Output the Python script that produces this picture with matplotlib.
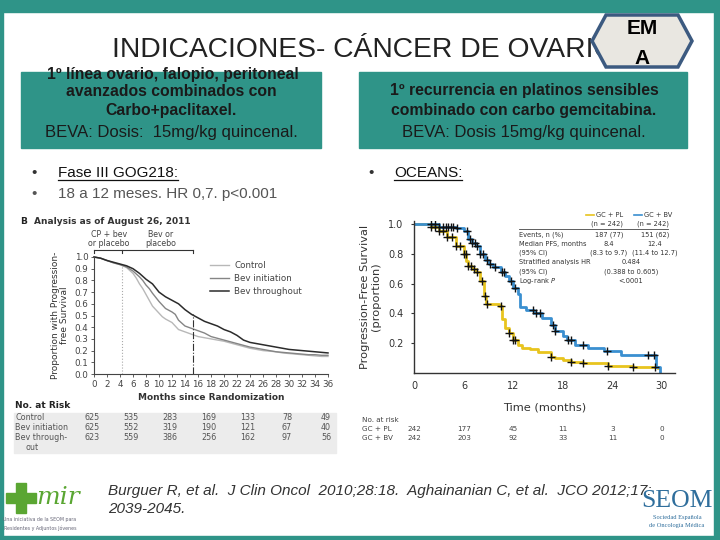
import numpy as np
import matplotlib
matplotlib.use("Agg")
import matplotlib.pyplot as plt
from matplotlib.patches import Rectangle, Polygon

# ---------------- DATA ----------------
# GOG218 (left panel)
gog_t = [0, 1, 2, 3, 4, 5, 6, 6.5, 7, 7.5, 8, 8.5, 9, 9.5, 10, 10.5, 11, 11.5, 12, 12.5, 13,
         13.5, 14, 15, 16, 17, 18, 19, 20, 21, 22, 23, 24, 25, 26, 27, 28, 29, 30, 31, 32, 33, 34, 35, 36]
gog_control = [1.0, 0.99, 0.97, 0.95, 0.935, 0.91, 0.86, 0.82, 0.77, 0.73, 0.68, 0.63, 0.58, 0.55,
               0.52, 0.49, 0.47, 0.455, 0.44, 0.41, 0.38, 0.37, 0.36, 0.34, 0.32, 0.31, 0.30, 0.29,
               0.28, 0.265, 0.25, 0.235, 0.22, 0.21, 0.20, 0.195, 0.19, 0.18, 0.175, 0.17, 0.165,
               0.16, 0.155, 0.15, 0.15]
gog_init = [1.0, 0.99, 0.97, 0.95, 0.935, 0.915, 0.88, 0.855, 0.83, 0.80, 0.76, 0.73, 0.69, 0.655,
            0.62, 0.59, 0.56, 0.545, 0.53, 0.51, 0.46, 0.435, 0.41, 0.39, 0.37, 0.35, 0.32, 0.305,
            0.29, 0.275, 0.26, 0.245, 0.23, 0.22, 0.21, 0.20, 0.19, 0.185, 0.18, 0.175, 0.17,
            0.165, 0.165, 0.16, 0.16]
gog_through = [1.0, 0.99, 0.97, 0.955, 0.94, 0.925, 0.90, 0.88, 0.86, 0.835, 0.81, 0.79, 0.77, 0.735,
               0.70, 0.68, 0.66, 0.645, 0.63, 0.615, 0.60, 0.575, 0.55, 0.51, 0.48, 0.45, 0.43, 0.41,
               0.38, 0.36, 0.33, 0.29, 0.27, 0.26, 0.25, 0.24, 0.23, 0.22, 0.21, 0.205, 0.20, 0.195,
               0.19, 0.185, 0.18]
gog_ticks = list(range(0, 37, 2))
gog_risk_months = [0, 6, 12, 18, 24, 30, 36]
gog_risk_control = [625, 535, 283, 169, 133, 78, 49]
gog_risk_init = [625, 552, 319, 190, 121, 67, 40]
gog_risk_through = [623, 559, 386, 256, 162, 97, 56]

# OCEANS (right panel)
pl_t = [0, 2, 3, 4, 5, 6, 6.3, 6.5, 7, 7.5, 8, 8.4, 8.7, 10.3, 10.6, 11, 11.5, 12, 12.5, 13, 14,
        15, 16.5, 17, 18, 19, 20.5, 23.5, 26.5, 29.5]
pl_s = [1.0, 0.98, 0.95, 0.91, 0.85, 0.80, 0.75, 0.715, 0.70, 0.68, 0.62, 0.52, 0.46, 0.45, 0.36,
        0.30, 0.27, 0.22, 0.19, 0.17, 0.16, 0.14, 0.11, 0.10, 0.09, 0.075, 0.065, 0.05, 0.04, 0.035]
bv_t = [0, 3, 5, 6, 6.5, 7, 7.5, 8, 8.5, 9, 9.5, 10.5, 11, 11.5, 12, 12.5, 12.8, 13.5, 14.5, 15.5,
        16.5, 17, 18, 18.5, 19.5, 21, 23, 25, 29.3, 29.8]
bv_s = [1.0, 0.98, 0.97, 0.95, 0.90, 0.87, 0.85, 0.80, 0.76, 0.73, 0.71, 0.68, 0.65, 0.62, 0.57,
        0.53, 0.44, 0.42, 0.40, 0.37, 0.32, 0.28, 0.25, 0.22, 0.19, 0.17, 0.15, 0.12, 0.04, 0.0]
pl_cens = [2, 2.5, 3, 3.5, 4, 4.5, 5, 5.5, 6, 6.2, 6.5, 6.8, 7.2, 7.6, 8.2, 8.5, 8.8, 10.5, 11.5,
           12, 12.2, 16.5, 19, 20.5, 23.5, 26.5, 29.2]
bv_cens = [2, 2.5, 3, 3.5, 3.8, 4.1, 4.4, 4.7, 5.2, 6.4, 6.7, 7.0, 7.3, 7.6, 8.0, 8.3, 8.8, 9.2,
           9.8, 10.6, 10.9, 11.7, 12.2, 14.4, 14.7, 15.2, 16.8, 17.1, 18.6, 19.0, 20.5, 23.4,
           28.3, 29.1]
oc_ticks = [0, 6, 12, 18, 24, 30]
oc_risk_pl = [242, 177, 45, 11, 3, 0]
oc_risk_bv = [242, 203, 92, 33, 11, 0]

TEAL = "#2f9488"
W, H = 720, 540

fig = plt.figure(figsize=(7.2, 5.4), dpi=100)
bg = fig.add_axes([0, 0, 1, 1])
bg.set_xlim(0, W)
bg.set_ylim(H, 0)
bg.axis("off")

SANS = ["Liberation Sans", "DejaVu Sans"]

# frame
bg.add_patch(Rectangle((0, 0), W, 12, color=TEAL, zorder=1))
bg.add_patch(Rectangle((0, 0), 3, H, color=TEAL, zorder=1))
bg.add_patch(Rectangle((714, 0), 6, H, color=TEAL, zorder=1))
bg.add_patch(Rectangle((0, 536), W, 4, color=TEAL, zorder=1))

# title
bg.text(112, 50, "INDICACIONES- CÁNCER DE OVARIO", fontsize=20.3, family=SANS,
        color="#222222", va="center", ha="left", zorder=2)
# hexagon
hexpts = [(592, 41), (606, 15), (678, 15), (692, 41), (678, 67), (606, 67)]
bg.add_patch(Polygon(hexpts, closed=True, fc="#e9e7e1", ec="#3c5a80", lw=2.5, zorder=3))
bg.text(642, 29, "EM", fontsize=15, fontweight="bold", family=SANS, ha="center", va="center", zorder=4)
bg.text(642, 58, "A", fontsize=15, fontweight="bold", family=SANS, ha="center", va="center", zorder=4)

# teal boxes
bg.add_patch(Rectangle((21, 72), 300, 76, color=TEAL, zorder=1))
bg.add_patch(Rectangle((359, 72), 328, 76, color=TEAL, zorder=1))
bx = dict(family=SANS, ha="center", va="center", color="#1a1a1a", zorder=5)
bg.text(173, 74, "1º línea ovario, falopio, peritoneal", fontweight="bold", fontsize=11.3, **bx)
bg.text(171, 92, "avanzados combinados con", fontweight="bold", fontsize=11.3, **bx)
bg.text(171, 111, "Carbo+paclitaxel.", fontweight="bold", fontsize=11.3, **bx)
bg.text(171, 133, "BEVA: Dosis:  15mg/kg quincenal.", fontsize=12.0, **bx)
bg.text(524, 91, "1º recurrencia en platinos sensibles", fontweight="bold", fontsize=11.3, **bx)
bg.text(524, 111, "combinado con carbo gemcitabina.", fontweight="bold", fontsize=11.3, **bx)
bg.text(524, 133, "BEVA: Dosis 15mg/kg quincenal.", fontsize=12.0, **bx)

# bullets
bt = dict(family=SANS, fontsize=11, va="center", ha="left", zorder=5)
bg.text(31, 173, "•", color="#333333", **bt)
t1 = bg.text(58, 173, "Fase III GOG218:", color="#111111", **bt)
bg.text(31, 194, "•", color="#555555", **bt)
bg.text(58, 194, "18 a 12 meses. HR 0,7. p<0.001", color="#555555", **bt)
bg.text(368, 173, "•", color="#333333", **bt)
t2 = bg.text(394, 173, "OCEANS:", color="#111111", **bt)

# footer
ft = dict(family=SANS, fontsize=11, style="italic", color="#333333", va="center", ha="left")
bg.text(108, 491, "Burguer R, et al.  J Clin Oncol  2010;28:18.  Aghainanian C, et al.  JCO 2012;17:", **ft)
bg.text(108, 509, "2039-2045.", **ft)

# +mir logo
GREEN = "#5aa632"
bg.add_patch(Rectangle((6, 493), 30, 10, color=GREEN, zorder=2))
bg.add_patch(Rectangle((16, 483), 10, 30, color=GREEN, zorder=2))
bg.text(36, 498, "mir", fontsize=18, family=["DejaVu Serif"], style="italic", color=GREEN,
        va="center", ha="left")
bg.text(40, 520, "Una iniciativa de la SEOM para", fontsize=3.4, color="#667", ha="center", va="center")
bg.text(40, 528, "Residentes y Adjuntos Jóvenes", fontsize=3.4, color="#667", ha="center", va="center")

# SEOM logo
BLUE = "#2f6e9c"
SERIF = ["Liberation Serif", "DejaVu Serif"]
bg.text(677, 501, "SEOM", fontsize=18.5, family=SERIF, color=BLUE, ha="center", va="center")
bg.text(677, 518, "Sociedad Española", fontsize=4.6, color=BLUE, ha="center", va="center", family=SERIF)
bg.text(677, 526, "de Oncología Médica", fontsize=4.6, color=BLUE, ha="center", va="center", family=SERIF)

# ---------------- Left KM (GOG218) ----------------
def fig_axes(x0, x1, ytop, ybot):
    return fig.add_axes([x0 / W, 1 - ybot / H, (x1 - x0) / W, (ybot - ytop) / H])

axL = fig_axes(94, 328, 257, 374)
axL.set_facecolor("none")
axL.plot(gog_t, gog_control, color="#b8b8b8", lw=1.0, clip_on=False, label="Control")
axL.plot(gog_t, gog_init, color="#858585", lw=1.0, clip_on=False, label="Bev initiation")
axL.plot(gog_t, gog_through, color="#2b2b2b", lw=1.1, clip_on=False, label="Bev throughout")
axL.set_xlim(0, 36)
axL.set_ylim(0, 1.0)
axL.set_xticks(gog_ticks)
axL.set_yticks(np.round(np.arange(0, 1.01, 0.1), 1))
axL.set_yticklabels([f"{v:.1f}" for v in np.arange(0, 1.01, 0.1)])
for s in ["top", "right"]:
    axL.spines[s].set_visible(False)
for s in ["left", "bottom"]:
    axL.spines[s].set_color("#444444")
    axL.spines[s].set_linewidth(0.8)
axL.tick_params(labelsize=6.3, length=2.5, width=0.6, colors="#444444", pad=1.5)
axL.axvline(4.3, ymax=0.93, color="#aaaaaa", lw=0.8, ls=":")
axL.axvline(15.2, ymax=0.51, color="#333333", lw=0.8, ls="-.")
axL.plot([0, 15.2], [1.06, 1.06], color="#333333", lw=0.8, clip_on=False)
for xv in [0, 4.3, 15.2]:
    axL.plot([xv, xv], [1.03, 1.06], color="#333333", lw=0.8, clip_on=False)
axL.text(2.3, 1.08, "CP + bev\nor placebo", fontsize=5.7, ha="center", va="bottom",
         color="#444444", linespacing=1.0)
axL.text(10.3, 1.08, "Bev or\nplacebo", fontsize=5.7, ha="center", va="bottom",
         color="#444444", linespacing=1.0)
axL.legend(loc="upper left", bbox_to_anchor=(0.46, 1.035), frameon=False,
           fontsize=6.3, handlelength=2.2, handletextpad=0.6, labelspacing=0.45, labelcolor="#444444")
axL.set_xlabel("Months since Randomization", fontsize=6.5, fontweight="bold", color="#333333",
               labelpad=3)
axL.set_ylabel("Proportion with Progression-\nfree Survival", fontsize=6.5, color="#333333",
               labelpad=4, linespacing=1.0)

bg.text(20, 222, "B", fontsize=6.5, fontweight="bold", color="#222222", va="center")
bg.text(34, 222, "Analysis as of August 26, 2011", fontsize=6.5, fontweight="bold",
        color="#333333", va="center")

# risk table left
bg.add_patch(Rectangle((14, 413), 322, 40, color="#ececec", zorder=0.5))
bg.text(15, 406, "No. at Risk", fontsize=6.5, fontweight="bold", color="#222222", va="center")
def mx(m):
    return 94 + m * (328 - 94) / 36
rows = [("Control", gog_risk_control, 418), ("Bev initiation", gog_risk_init, 428),
        ("Bev through-", gog_risk_through, 438)]
for lab, vals, yy in rows:
    bg.text(15, yy, lab, fontsize=5.8, color="#555555", va="center")
    for m, v in zip(gog_risk_months, vals):
        bg.text(mx(m) - 2, yy, str(v), fontsize=5.8, color="#555555", va="center", ha="center")
bg.text(25, 447, "out", fontsize=5.8, color="#555555", va="center")

# ---------------- Right KM (OCEANS) ----------------
axR = fig_axes(414.5, 675, 221, 373)
axR.set_facecolor("none")
YEL = "#e8c41e"
BLU = "#3a8fd0"
axR.step(pl_t, pl_s, where="post", color=YEL, lw=2.0, zorder=2)
axR.step(bv_t, bv_s, where="post", color=BLU, lw=2.0, zorder=2)

def step_val(t, s, x):
    idx = np.searchsorted(np.asarray(t), x, side="right") - 1
    return np.asarray(s)[idx]

axR.plot(pl_cens, [step_val(pl_t, pl_s, c) for c in pl_cens], "+", color="#111111", ms=6, mew=1.0,
         zorder=3)
axR.plot(bv_cens, [step_val(bv_t, bv_s, c) for c in bv_cens], "+", color="#111111", ms=6, mew=1.0,
         zorder=3)
axR.set_xlim(0, 31.6)
axR.set_ylim(0, 1.02)
axR.set_xticks(oc_ticks)
axR.set_yticks([0.2, 0.4, 0.6, 0.8, 1.0])
axR.set_yticklabels(["0.2", "0.4", "0.6", "0.8", "1.0"])
for s in ["top", "right"]:
    axR.spines[s].set_visible(False)
for s in ["left", "bottom"]:
    axR.spines[s].set_color("#333333")
    axR.spines[s].set_linewidth(1.0)
axR.tick_params(axis="y", labelsize=7, length=2, colors="#333333", pad=6)
axR.tick_params(axis="x", labelsize=7, length=0, colors="#333333", pad=6)
axR.set_xlabel("Time (months)", fontsize=8.2, color="#333333", labelpad=8)
axR.set_ylabel("Progression-Free Survival\n(proportion)", fontsize=8.2, color="#333333",
               labelpad=5, linespacing=1.15)

# legend table (right)
lt = dict(fontsize=4.8, color="#333333", va="center")
bg.plot([586, 594], [215, 215], color=YEL, lw=1.2)
bg.text(596, 215, "GC + PL", ha="left", **lt)
bg.plot([634, 642], [215, 215], color=BLU, lw=1.2)
bg.text(644, 215, "GC + BV", ha="left", **lt)
bg.text(607, 224, "(n = 242)", ha="center", **lt)
bg.text(653, 224, "(n = 242)", ha="center", **lt)
bg.plot([519, 668], [229, 229], color="#444444", lw=0.6)
tab_rows = [("Events, n (%)", "187 (77)", "151 (62)", None),
            ("Median PFS, months", "8.4", "12.4", None),
            ("(95% CI)", "(8.3 to 9.7)", "(11.4 to 12.7)", None),
            ("Stratified analysis HR", None, None, "0.484"),
            ("(95% CI)", None, None, "(0.388 to 0.605)"),
            ("Log-rank $P$", None, None, "<.0001")]
for i, (a, b, c, d) in enumerate(tab_rows):
    yy = 234.5 + i * 9.3
    bg.text(519, yy, a, ha="left", **lt)
    if b is not None:
        bg.text(609, yy, b, ha="center", **lt)
        bg.text(655, yy, c, ha="center", **lt)
    if d is not None:
        bg.text(631, yy, d, ha="center", **lt)

# risk table right
rt = dict(fontsize=5.2, color="#444444", va="center")
bg.text(362, 420, "No. at risk", ha="left", **rt)
def ox(m):
    return 414.5 + m * (675 - 414.5) / 31.6
for lab, vals, yy in [("GC + PL", oc_risk_pl, 429), ("GC + BV", oc_risk_bv, 438)]:
    bg.text(362, yy, lab, ha="left", **rt)
    for m, v in zip(oc_ticks, vals):
        bg.text(ox(m), yy, str(v), ha="center", **rt)

# underline bullet headings
fig.canvas.draw()
rend = fig.canvas.get_renderer()
inv = bg.transData.inverted()
for t in (t1, t2):
    bb = t.get_window_extent(rend)
    (xa, ya), (xb, yb) = inv.transform([[bb.x0, bb.y0], [bb.x1, bb.y1]])
    bg.plot([xa, xb], [ya - 0.5, ya - 0.5], color="#111111", lw=0.9)

fig.savefig("out.png", dpi=100)
